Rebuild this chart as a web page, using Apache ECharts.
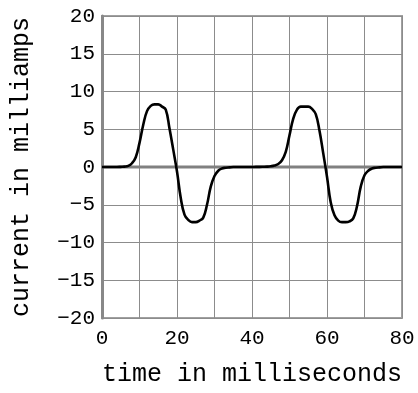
<!DOCTYPE html>
<html>
<head>
<meta charset="utf-8">
<script src="https://cdn.jsdelivr.net/npm/echarts@6/dist/echarts.min.js"></script>
<style>
  html, body { margin: 0; padding: 0; background: #fff; }
  #chart { width: 418px; height: 393px; }
</style>
</head>
<body>
<div id="chart"></div>
<script>
// values, one per millisecond
const timeMs = [
  0, 1, 2, 3, 4, 5, 6, 7, 8, 9, 10, 11, 12, 13, 14, 15, 16, 17, 18, 19,
  20, 21, 22, 23, 24, 25, 26, 27, 28, 29, 30, 31, 32, 33, 34, 35, 36, 37, 38, 39,
  40, 41, 42, 43, 44, 45, 46, 47, 48, 49, 50, 51, 52, 53, 54, 55, 56, 57, 58, 59,
  60, 61, 62, 63, 64, 65, 66, 67, 68, 69, 70, 71, 72, 73, 74, 75, 76, 77, 78, 79, 80
];
const currentMa = [
  0, 0, 0, 0, 0, 0.02, 0.05, 0.15, 0.5, 1.3, 3.2, 5.6, 7.4, 8.1, 8.3, 8.3, 8.0, 7.6, 5.1, 2.3,
  -0.6, -4.1, -6.3, -7.0, -7.3, -7.3, -7.1, -6.7, -5.0, -2.6, -1.2, -0.5, -0.2, -0.1, -0.05, 0, 0, 0, 0, 0,
  0, 0.02, 0.02, 0.03, 0.05, 0.1, 0.2, 0.4, 0.9, 2.0, 4.2, 6.4, 7.6, 8.0, 8.0, 8.0, 7.7, 7.0, 4.8, 1.8,
  -1.3, -4.7, -6.4, -7.1, -7.3, -7.3, -7.2, -6.8, -5.2, -2.6, -1.1, -0.5, -0.2, -0.1, -0.05, 0, 0, 0, 0, 0, 0
];
const xLabels = [0, 20, 40, 60, 80];
const zeroLine = [[0, 0], [80, 0]];

const mono = "'Courier New', 'Liberation Mono', monospace";
const chart = echarts.init(document.getElementById('chart'));

chart.setOption({
  animation: false,
  grid: {
    left: 102, right: 16, top: 16, bottom: 75,
    show: true, borderColor: '#a0a0a0', borderWidth: 2
  },
  xAxis: {
    type: 'value', min: 0, max: 80, interval: 10,
    name: 'time in milliseconds', nameLocation: 'middle', nameGap: 44,
    nameTextStyle: { fontFamily: mono, fontSize: 25, color: '#000' },
    axisLine: { show: false },
    axisTick: { show: false },
    axisLabel: {
      fontFamily: mono, fontSize: 21, color: '#000', margin: 10,
      formatter: v => (xLabels.includes(v) ? String(v) : '')
    },
    splitLine: { show: true, lineStyle: { color: '#8c8c8c', width: 1 } }
  },
  yAxis: {
    type: 'value', min: -20, max: 20, interval: 5,
    name: 'current in milliamps', nameLocation: 'middle', nameGap: 68,
    nameTextStyle: { fontFamily: mono, fontSize: 25, color: '#000' },
    axisLine: { show: true, onZero: false, lineStyle: { color: '#888', width: 3 } },
    axisTick: { show: false },
    axisLabel: {
      fontFamily: mono, fontSize: 21, color: '#000', margin: 7,
      formatter: v => String(v).replace('-', '\u2212')
    },
    splitLine: { show: true, lineStyle: { color: '#8c8c8c', width: 1 } }
  },
  series: [
    {
      type: 'line', data: zeroLine, symbol: 'none', silent: true, z: 1,
      lineStyle: { color: '#808080', width: 3 }
    },
    {
      type: 'line', data: timeMs.map((t, i) => [t, currentMa[i]]),
      symbol: 'none', smooth: 0.45, z: 3,
      lineStyle: { color: '#000', width: 2.6 }
    }
  ]
});
</script>
</body>
</html>
